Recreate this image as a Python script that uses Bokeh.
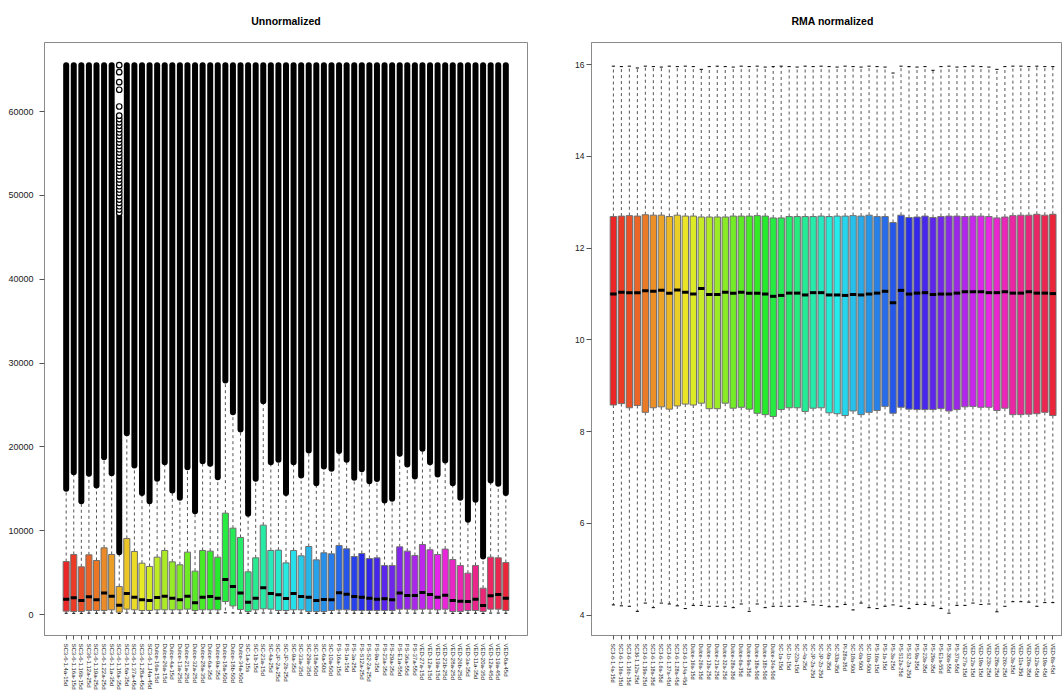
import colorsys
from bokeh.plotting import figure
from bokeh.layouts import row
from bokeh.models import Range1d, FixedTicker
from bokeh.embed import file_html
from bokeh.resources import INLINE

# ---------------- Unnormalized (raw intensities) ----------------
left_names = [
    "SC3-6-1.4a-15d", "SC3-6-1.16a-15d", "SC3-6-1.16b-15d", "SC36-1.12a-25d", "SC3-6-1.19a-25d",
    "SC3-6-1.22a-25d", "SC3-6-1.1a-35d", "SC3-6-1.18a-35d", "SC3-6-1.6a-35d", "SC3-6-1.37a-45d",
    "SC3-6-1.28a-45d", "SC3-6-1.J4a-45d", "Dulce-16a-15d", "Dulce-26a-15d", "Dulce-4a-15d",
    "Dulce-13a-25d", "Dulce-21a-25d", "Dulce-32a-25d", "Dulce-28a-35d", "Dulce-6a-35d",
    "Dulce-9a-35d", "Dulce-18a-50d", "Dulce-18b-50d", "Dulce-34a-50d", "SC-1a-15s",
    "SC-1b-15d", "SC-23a-15d", "SC-4a-25d", "SC-JP-2a-25d", "SC-JP-2b-25d",
    "SC-9a-35d", "SC-33a-35d", "SC-29a-35d", "SC-18a-50d", "SC-6a-50d",
    "SC-10a-50d", "PS-16a-15d", "PS-1a-15d", "PS-3a-25d", "PS-S12a-25d",
    "PS-S2-2a-25d", "PS-9a-35d", "PS-23a-35d", "PS-29a-35d", "PS-E1a-55d",
    "PS-36a-55d", "PS-37a-55d", "VED-27a-15d", "VED-12a-15d", "VED-19a-15d",
    "VED-23b-25d", "VED-28a-25d", "VED-26b-25d", "VED-3a-35d", "VED-11a-35d",
    "VED-20a-35d", "VED-12a-45d", "VED-19a-45d", "VED-8a-45d",
]
left_wlo = [150, 140, 140, 160, 150, 160, 170, 120, 180, 160,
            150, 150, 160, 160, 160, 160, 170, 150, 160, 160,
            160, 200, 180, 170, 140, 160, 180, 170, 150, 150,
            160, 160, 140, 140, 140, 150, 160, 160, 150, 150,
            150, 150, 150, 150, 170, 170, 160, 170, 170, 160,
            170, 140, 140, 150, 150, 130, 170, 170, 150]
left_q1 = [400, 360, 360, 480, 480, 480, 560, 280, 640, 560,
           480, 480, 560, 560, 560, 560, 640, 480, 560, 560,
           560, 1550, 1030, 600, 360, 560, 680, 640, 480, 480,
           560, 560, 360, 360, 360, 480, 560, 560, 480, 480,
           480, 480, 480, 480, 640, 640, 560, 640, 640, 560,
           640, 360, 360, 480, 480, 360, 640, 640, 480]
left_med = [1830, 1990, 1670, 2110, 1750, 2550, 2190, 1110, 2510, 2070,
            1750, 1670, 2030, 2190, 1950, 1750, 2190, 1390, 2070, 2150,
            1950, 4180, 3340, 2550, 1470, 1950, 3180, 2510, 2350, 1910,
            2510, 2150, 2070, 1670, 1790, 1750, 2590, 2430, 2150, 2070,
            1950, 1830, 1870, 1750, 2550, 2270, 2270, 2620, 2390, 2070,
            2310, 1670, 1590, 1550, 1830, 1070, 2230, 2390, 1950]
left_q3 = [6320, 7160, 5690, 7120, 6440, 7950, 7160, 3340, 9070, 7520,
           6120, 5730, 6840, 7640, 6280, 5930, 7440, 5170, 7640, 7560,
           6840, 12090, 10300, 9190, 5090, 6760, 10660, 7640, 7680, 6160,
           7640, 7000, 8110, 6520, 7360, 7240, 8230, 7840, 6920, 7280,
           6680, 6760, 5850, 5850, 8070, 7560, 7040, 8350, 7720, 7160,
           7800, 6560, 5850, 4930, 5850, 3140, 6840, 6760, 6200]
# upper whisker end = lowest of the dense outlier run
left_whi = [15000, 16980, 13520, 16780, 15390, 18770, 16860, 7440, 21630, 17780,
            14480, 13520, 16190, 18170, 14790, 13920, 17580, 12330, 18290, 17970,
            16380, 27920, 24140, 22070, 12010, 16190, 25450, 18170, 18450, 14480,
            18170, 16580, 19570, 15670, 17660, 17380, 19490, 18450, 16300, 17340,
            15910, 16150, 13600, 13800, 19170, 17900, 16460, 19760, 18170, 16700,
            18370, 15670, 13920, 11290, 13680, 6920, 15990, 15590, 14480]
# top of the dense outlier run (saturation value 65535)
left_out_hi = [65535, 65535, 65535, 65535, 65535, 65535, 65535, 47500, 65535, 65535,
               65535, 65535, 65535, 65535, 65535, 65535, 65535, 65535, 65535, 65535,
               65535, 65535, 65535, 65535, 65535, 65535, 65535, 65535, 65535, 65535,
               65535, 65535, 65535, 65535, 65535, 65535, 65535, 65535, 65535, 65535,
               65535, 65535, 65535, 65535, 65535, 65535, 65535, 65535, 65535, 65535,
               65535, 65535, 65535, 65535, 65535, 65535, 65535, 65535, 65535]
# looser individual outliers of sample 8 (SC3-6-1.1a-35d)
sparse_val = [47900, 48300, 48700, 49100, 49500, 49900, 50300, 50700, 51100, 51500,
              51900, 52300, 52700, 53100, 53500, 53900, 54300, 54700, 55100, 55500,
              55900, 56300, 56700, 57100, 57500, 57900, 58300, 58700, 59100, 59500,
              60600, 62600, 63500, 64700, 65535]
sparse_idx = [8] * len(sparse_val)

# ---------------- RMA normalized (log2) ----------------
right_names = [
    "SC3-6-1.4a-15d", "SC3-6-1.16a-15d", "SC3-6-1.16b-15d", "SC36-1.12a-25d", "SC3-6-1.19a-25d",
    "SC3-6-1.18a-35d", "SC3-6-1.6a-35d", "SC3-6-1.37a-45d", "SC3-6-1.28a-45d", "SC3-6-1.J4a-45d",
    "Dulce-16a-15d", "Dulce-26a-15d", "Dulce-13a-25d", "Dulce-21a-25d", "Dulce-32a-25d",
    "Dulce-28a-35d", "Dulce-6a-35d", "Dulce-9a-35d", "Dulce-18a-50d", "Dulce-18b-50d",
    "Dulce-34a-50d", "SC-1a-15d", "SC-1b-15d", "SC-22a-15d", "SC-4a-25d",
    "SC-JP-2a-25d", "SC-JP-2b-25d", "SC-9a-35d", "SC-33a-35d", "PI-28a-35d",
    "SC-18a-50d", "SC-6a-50d", "SC-10a-50d", "PS-16a-15d", "PS-1a-15d",
    "PS-3a-25d", "PS-S12a-25d", "PS-S2-2a-25d", "PS-9a-35d", "PS-23a-35d",
    "PS-29a-35d", "PS-E1a-55d", "PS-36a-55d", "PS-37a-55d", "VED-27a-15d",
    "VED-12a-15d", "VED-19a-15d", "VED-23b-25d", "VED-28a-25d", "VED-26b-25d",
    "VED-3a-35d", "VED-11a-35d", "VED-20a-35d", "VED-12a-45d", "VED-19a-45d",
    "VED-8a-45d",
]
right_wlo = [4.22, 4.20, 4.19, 4.08, 4.26, 4.16, 4.26, 4.24, 4.20, 4.14,
             4.21, 4.21, 4.19, 4.19, 4.19, 4.16, 4.24, 4.08, 4.24, 4.16,
             4.19, 4.19, 4.19, 4.19, 4.29, 4.22, 4.21, 4.18, 4.18, 4.23,
             4.11, 4.26, 4.16, 4.14, 4.19, 4.22, 4.19, 4.14, 4.23, 4.23,
             4.20, 4.14, 4.04, 4.21, 4.21, 4.26, 4.23, 4.24, 4.07, 4.19,
             4.29, 4.29, 4.28, 4.19, 4.27, 4.27]
right_q1 = [8.58, 8.61, 8.52, 8.57, 8.42, 8.52, 8.54, 8.49, 8.56, 8.60,
            8.58, 8.62, 8.50, 8.50, 8.62, 8.51, 8.53, 8.49, 8.40, 8.37,
            8.33, 8.48, 8.52, 8.52, 8.44, 8.51, 8.52, 8.41, 8.39, 8.35,
            8.45, 8.37, 8.42, 8.46, 8.55, 8.40, 8.53, 8.49, 8.48, 8.48,
            8.48, 8.50, 8.45, 8.48, 8.54, 8.55, 8.53, 8.53, 8.46, 8.51,
            8.37, 8.37, 8.38, 8.39, 8.42, 8.35]
right_med = [11.00, 11.04, 11.03, 11.03, 11.07, 11.06, 11.08, 11.02, 11.09, 11.04,
             11.00, 11.12, 10.99, 10.99, 11.04, 11.02, 11.04, 11.02, 11.02, 11.00,
             10.95, 10.97, 11.02, 11.02, 10.98, 11.03, 11.03, 10.98, 10.98, 10.97,
             10.99, 10.98, 11.00, 11.02, 11.06, 10.81, 11.08, 11.00, 11.02, 11.03,
             10.99, 11.00, 11.00, 11.02, 11.05, 11.05, 11.05, 11.03, 11.03, 11.05,
             11.02, 11.02, 11.05, 11.02, 11.02, 11.01]
right_q3 = [12.69, 12.70, 12.71, 12.70, 12.73, 12.72, 12.72, 12.69, 12.72, 12.70,
            12.70, 12.68, 12.68, 12.68, 12.68, 12.70, 12.70, 12.70, 12.71, 12.70,
            12.66, 12.66, 12.69, 12.69, 12.69, 12.69, 12.70, 12.69, 12.70, 12.70,
            12.71, 12.70, 12.72, 12.69, 12.69, 12.56, 12.72, 12.67, 12.68, 12.70,
            12.67, 12.69, 12.70, 12.70, 12.69, 12.70, 12.70, 12.69, 12.66, 12.68,
            12.71, 12.72, 12.72, 12.74, 12.72, 12.74]
right_whi = [15.97, 15.96, 15.97, 15.93, 15.97, 15.96, 15.95, 15.97, 15.96, 15.97,
             15.96, 15.90, 15.96, 15.97, 15.96, 15.95, 15.97, 15.96, 15.97, 15.95,
             15.96, 15.97, 15.96, 15.95, 15.97, 15.96, 15.97, 15.96, 15.95, 15.97,
             15.96, 15.95, 15.97, 15.96, 15.95, 15.82, 15.97, 15.96, 15.95, 15.96,
             15.88, 15.96, 15.97, 15.95, 15.96, 15.97, 15.96, 15.95, 15.90, 15.96,
             15.97, 15.97, 15.96, 15.97, 15.96, 15.96]

left_yticks = [0, 10000, 20000, 30000, 40000, 50000, 60000]
right_yticks = [4, 6, 8, 10, 12, 14, 16]

FONT = "Liberation Sans"


def rainbow(n, s=0.84, v=0.92):
    cols = []
    for i in range(n):
        r, g, b = colorsys.hsv_to_rgb(i / n, s, v)
        cols.append("#%02x%02x%02x" % (round(r * 255), round(g * 255), round(b * 255)))
    return cols


def panel(title, names, wlo, q1, med, q3, whi, xr, yr, yticks, width, height,
          bl, br, bt, bb, ylab_size, xlab_size, ystandoff, title_align, title_offset):
    n = len(names)
    xs = list(range(1, n + 1))
    cols = rainbow(n)
    p = figure(width=width, height=height, x_range=Range1d(*xr), y_range=Range1d(*yr),
               output_backend="svg", toolbar_location=None,
               min_border_left=bl, min_border_right=br, min_border_top=bt, min_border_bottom=bb)
    p.xgrid.visible = False
    p.ygrid.visible = False
    p.outline_line_color = "#8a8a8a"
    p.outline_line_width = 1
    p.background_fill_color = "white"
    p.border_fill_color = "white"

    p.title.text = title
    p.title.align = title_align
    p.title.offset = title_offset
    p.title.vertical_align = "top"
    p.title.standoff = 27
    p.title.text_font = FONT
    p.title.text_font_size = "10.5px"
    p.title.text_font_style = "bold"
    p.title.text_color = "black"

    half_box = 0.4
    half_cap = 0.2
    # whiskers
    p.segment(x0=xs, y0=q3, x1=xs, y1=whi, line_color="#555555", line_width=1, line_dash="3 3")
    p.segment(x0=xs, y0=q1, x1=xs, y1=wlo, line_color="#555555", line_width=1, line_dash="3 3")
    p.segment(x0=[x - half_cap for x in xs], y0=whi, x1=[x + half_cap for x in xs], y1=whi,
              line_color="black", line_width=1)
    p.segment(x0=[x - half_cap for x in xs], y0=wlo, x1=[x + half_cap for x in xs], y1=wlo,
              line_color="black", line_width=1)
    # boxes
    p.vbar(x=xs, width=2 * half_box, bottom=q1, top=q3, fill_color=cols,
           line_color="#707070", line_width=1)
    p.segment(x0=[x - half_box for x in xs], y0=med, x1=[x + half_box for x in xs], y1=med,
              line_color="black", line_width=3)

    # axes
    ax = p.xaxis[0]
    ax.ticker = FixedTicker(ticks=xs)
    ax.major_label_overrides = {i: nm for i, nm in zip(xs, names)}
    ax.major_label_orientation = "vertical"
    ax.major_label_text_font = FONT
    ax.major_label_text_font_size = xlab_size
    ax.major_label_text_color = "#222222"
    ax.major_label_standoff = 4
    ax.major_tick_out = 4
    ax.major_tick_in = 0
    ax.minor_tick_line_color = None
    ax.axis_line_color = "#8a8a8a"
    ax.major_tick_line_color = "#555555"

    ay = p.yaxis[0]
    ay.ticker = FixedTicker(ticks=yticks)
    ay.major_label_text_font = FONT
    ay.major_label_text_font_size = ylab_size
    ay.major_label_text_color = "#222222"
    ay.major_label_standoff = ystandoff
    ay.major_tick_out = 5
    ay.major_tick_in = 0
    ay.minor_tick_line_color = None
    ay.axis_line_color = "#8a8a8a"
    ay.major_tick_line_color = "#555555"
    return p, xs


H = 692
pl, lxs = panel("Unnormalized", left_names, left_wlo, left_q1, left_med, left_q3, left_whi,
                (-1.86, 61.86), (-2505, 68234), left_yticks, 540, H,
                44, 13, 42, H - 635, "9px", "6px", 6, "center", 0)
# dense outlier runs (drawn as a solid column of overlapping circles)
pl.segment(x0=lxs, y0=left_whi, x1=lxs, y1=left_out_hi, line_color="black",
           line_width=6, line_cap="round")
pl.scatter(x=sparse_idx, y=sparse_val, size=5.5, marker="circle", fill_color="white",
           line_color="black", line_width=1.2)

pr, rxs = panel("RMA normalized", right_names, right_wlo, right_q1, right_med, right_q3, right_whi,
                (-1.74, 57.21), (3.553, 16.486), right_yticks, 522, H,
                51, 0, 42, H - 635, "8.5px", "5.5px", 2, "left", 200)

layout = row(pl, pr)
open("out.html", "w").write(file_html(layout, INLINE))
